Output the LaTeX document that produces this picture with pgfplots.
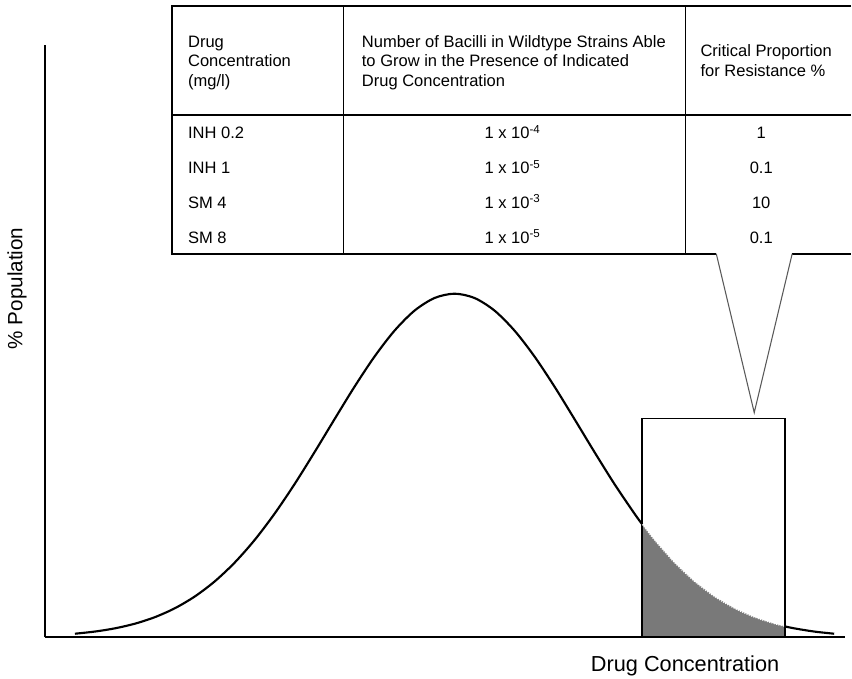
\documentclass[border=0pt]{standalone}
\usepackage{fontspec}
\setmainfont{Liberation Sans}
\usepackage{pgfplots}
\pgfplotsset{compat=1.18}
\begin{document}
\begin{tikzpicture}
\begin{axis}[
  x=0.75pt, y=0.75pt,
  xmin=45, xmax=846, ymin=0, ymax=593,
  axis x line=bottom, axis y line=left,
  axis line style={line width=1.5pt, -},
  xtick=\empty, ytick=\empty,
  clip=false,
  xlabel={Drug Concentration},
  ylabel={\% Population},
  xlabel style={font=\fontsize{16.3}{19}\selectfont, inner sep=0pt, at={(axis description cs:0.800,-0.049)}, anchor=center},
  ylabel style={font=\fontsize{15.5}{19}\selectfont, inner sep=0pt, at={(axis description cs:-0.035,0.589)}, anchor=center, rotate=0},
]
% bounding box of the whole figure (852 x 679 px)
\path (axis cs:0,-41) rectangle (axis cs:852,638);

% shaded tail inside the box
\addplot[fill=gray!95!black, draw=none] coordinates {
 (643,0) (643,113.0) (655,97.59) (675,74.92) (695,56.07) (715,40.93)
 (735,29.12) (755,20.21) (775,13.67) (786,10.92) (786,0)} \closedcycle;

% the box
\draw[line width=1.3pt] (axis cs:643,0) rectangle (axis cs:786,219);

% distribution curve
\addplot[black, line width=1.6pt, smooth] coordinates {
 (75,3.64) (95,5.81) (115,9.02) (135,13.67) (155,20.21) (175,29.12)
 (195,40.93) (215,56.07) (235,74.92) (255,97.59) (275,124.0) (295,153.6)
 (315,185.6) (335,218.6) (355,251.1) (375,281.2) (395,307.1) (415,327.1)
 (435,339.7) (455,344.0) (475,339.7) (495,327.1) (515,307.1) (535,281.2)
 (555,251.1) (575,218.6) (595,185.6) (615,153.6) (635,124.0) (643,113.0)};
\addplot[white, line width=0.8pt, densely dotted, smooth] coordinates {
 (643,113.0) (655,97.59) (675,74.92) (695,56.07) (715,40.93)
 (735,29.12) (755,20.21) (775,13.67) (786,10.92)};
\addplot[black, line width=1.6pt, smooth] coordinates {
 (786,10.92) (795,9.02) (815,5.81) (835,3.64)};

% table
\draw[line width=1.3pt] (axis cs:852,632) -- (axis cs:172.5,632) -- (axis cs:172.5,384) -- (axis cs:717,384);
\draw[line width=1.3pt] (axis cs:793,384) -- (axis cs:852,384);
\draw[line width=1.1pt] (axis cs:172.5,523) -- (axis cs:852,523);
\draw[line width=1.1pt] (axis cs:344,632) -- (axis cs:344,384);
\draw[line width=1.1pt] (axis cs:686,632) -- (axis cs:686,384);
% callout
\draw[gray!70!black, line width=0.8pt] (axis cs:717,384) -- (axis cs:755,225) -- (axis cs:793,384);

\begin{scope}[every node/.style={font=\fontsize{12.4}{14}\selectfont, inner sep=0pt}]
\node[anchor=base west] at (axis cs:188,590) {Drug};
\node[anchor=base west] at (axis cs:188,571) {Concentration};
\node[anchor=base west] at (axis cs:188,551) {(mg/l)};
\node[anchor=base west] at (axis cs:362,590) {Number of Bacilli in Wildtype Strains Able};
\node[anchor=base west] at (axis cs:362,571) {to Grow in the Presence of Indicated};
\node[anchor=base west] at (axis cs:362,551) {Drug Concentration};
\node[anchor=base west] at (axis cs:701,581) {Critical Proportion};
\node[anchor=base west] at (axis cs:701,561) {for Resistance \%};

\node[anchor=base west] at (axis cs:188,499) {INH 0.2};
\node[anchor=base west] at (axis cs:188,464) {INH 1};
\node[anchor=base west] at (axis cs:188,429) {SM 4};
\node[anchor=base west] at (axis cs:188,394) {SM 8};

\node[anchor=base] at (axis cs:513,499) {1 x 10\textsuperscript{-4}};
\node[anchor=base] at (axis cs:513,464) {1 x 10\textsuperscript{-5}};
\node[anchor=base] at (axis cs:513,429) {1 x 10\textsuperscript{-3}};
\node[anchor=base] at (axis cs:513,394) {1 x 10\textsuperscript{-5}};

\node[anchor=base] at (axis cs:762,499) {1};
\node[anchor=base] at (axis cs:762,464) {0.1};
\node[anchor=base] at (axis cs:762,429) {10};
\node[anchor=base] at (axis cs:762,394) {0.1};
\end{scope}
\end{axis}
\end{tikzpicture}
\end{document}
